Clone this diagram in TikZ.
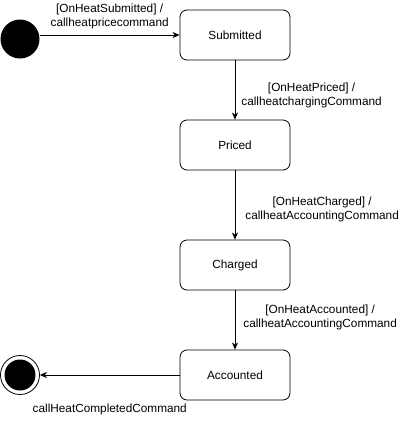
\documentclass[tikz,border=0pt]{standalone}
\usepackage{fontspec}
\setmainfont{Liberation Sans}
\usetikzlibrary{arrows.meta, positioning}
\tikzset{>={Stealth[length=7pt,width=6pt,inset=2pt]}}

\begin{document}
\begin{tikzpicture}[x=1pt, y=-1pt, font=\fontsize{11.8}{14}\selectfont]
    \useasboundingbox (0,0) rectangle (400,426);
    \begin{scope}[every node/.style={rectangle,rounded corners=7pt,draw,thick,
                  minimum width=110pt,minimum height=50pt}]
      \node (S) at (235,35) {Submitted};
      \node (P) at (235,145) {Priced};
      \node (C) at (235,265) {Charged};
      \node (A) at (235,375) {Accounted};
    \end{scope}
    \node[circle,fill=black,minimum size=39pt,inner sep=0pt] (I) at (20,39) {};
    \node[circle,draw,thick,minimum size=39pt,inner sep=0pt] (F) at (20,375) {};
    \node[circle,fill=black,minimum size=31pt,inner sep=0pt] (Fin) at (20,375) {};
    \begin{scope}[every node/.style={align=center,inner sep=1pt},
                  every edge/.style={draw=black, thick}]
      \path [->] (I.east |- S.west) edge node[above=5pt] {[OnHeatSubmitted] /\\callheatpricecommand} (S);
      \path [->] (S) edge node[right=5pt, yshift=-5pt] {[OnHeatPriced] /\\callheatchargingCommand} (P);
      \path [->] (P) edge node[right=9pt, yshift=-4pt] {[OnHeatCharged] /\\callheatAccountingCommand} (C);
      \path [->] (C) edge node[right=7pt, yshift=3pt] {[OnHeatAccounted] /\\callheatAccountingCommand} (A);
      \path [->] (A) edge node[below=28pt] {callHeatCompletedCommand} (F);
    \end{scope}
\end{tikzpicture}
\end{document}
